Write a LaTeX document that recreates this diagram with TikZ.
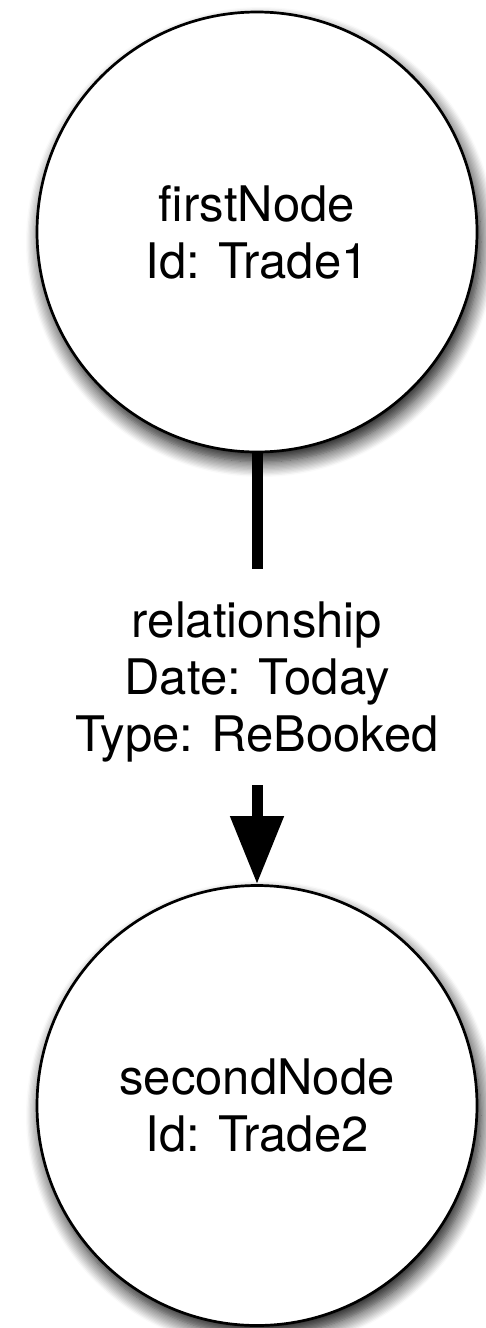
\documentclass[tikz,border=0pt]{standalone}
\usepackage{fontspec}
\setmainfont{TeX Gyre Heros}
\usepackage{tikz}
\usetikzlibrary{
  arrows.meta,
  positioning,
  shadows.blur
}
\definecolor{grNode}{HTML}{FFFFFF}
\definecolor{grEdge}{HTML}{000000}
\tikzset{
  grnode/.style={
    circle, draw=grEdge, fill=grNode, line width=2.7pt, minimum size=440pt,
    inner sep=0pt, align=center, font=\fontsize{49}{57}\selectfont,
    blur shadow={shadow xshift=4pt, shadow yshift=-10pt, shadow blur radius=15pt,
      shadow blur steps=12, shadow opacity=95}
  },
  grlabel/.style={inner sep=0pt, align=center, font=\fontsize{49}{57}\selectfont},
  grline/.style={line width=11pt, grEdge},
  grarrow/.style={-{Triangle[length=68pt, width=51pt]}, line width=11pt, grEdge}
}
\begin{document}
\begin{tikzpicture}
  \useasboundingbox (0,0) rectangle (485pt,-1328pt);
  \node[grnode] (firstNode) at (257pt,-232pt) {firstNode\\Id: Trade1};
  \node[grlabel, below=148pt of firstNode] (rel) {relationship\\Date: Today\\Type: ReBooked};
  \node[grnode, below=122pt of rel] (secondNode) {secondNode\\Id: Trade2};
  % edge, broken by its label
  \draw[grline, shorten >=32pt] (firstNode.south) -- (rel.north);
  \draw[grarrow, shorten <=23pt] (rel.south) -- (secondNode.north);
\end{tikzpicture}
\end{document}
